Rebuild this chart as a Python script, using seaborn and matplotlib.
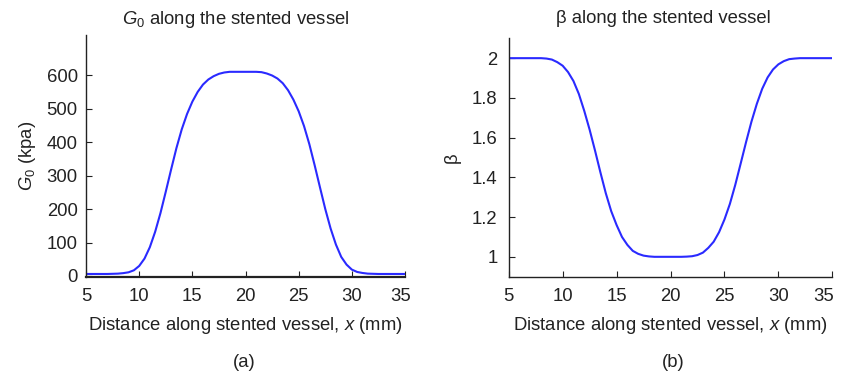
import numpy as np
import pandas as pd
import matplotlib
matplotlib.use("Agg")
import matplotlib.pyplot as plt
import matplotlib.transforms as mtransforms
import seaborn as sns

# Position along the stented vessel (mm)
x_mm = [5.0, 5.5, 6.0, 6.5, 7.0, 7.5, 8.0, 8.5, 9.0, 9.5,
        10.0, 10.5, 11.0, 11.5, 12.0, 12.5, 13.0, 13.5, 14.0, 14.5,
        15.0, 15.5, 16.0, 16.5, 17.0, 17.5, 18.0, 18.5, 19.0, 19.5,
        20.0, 20.5, 21.0, 21.5, 22.0, 22.5, 23.0, 23.5, 24.0, 24.5,
        25.0, 25.5, 26.0, 26.5, 27.0, 27.5, 28.0, 28.5, 29.0, 29.5,
        30.0, 30.5, 31.0, 31.5, 32.0, 32.5, 33.0, 33.5, 34.0, 34.5, 35.0]

# Shear modulus G0 (kPa)
g0_kpa = [6, 6, 6, 6, 6, 6.5, 7, 8.5, 11, 17,
          30, 52, 86, 132, 188, 252, 318, 382, 438, 484,
          521, 550, 572, 587, 597, 604, 608, 610, 610, 610,
          610, 610, 610, 609, 605, 599, 590, 576, 555, 527,
          492, 448, 394, 331, 265, 200, 142, 94, 57, 34,
          19, 12, 9, 7, 6.5, 6, 6, 6, 6, 6, 6]

# Stiffness exponent beta
beta = [2.0, 2.0, 2.0, 2.0, 2.0, 2.0, 2.0, 1.998, 1.993, 1.98,
        1.962, 1.93, 1.885, 1.82, 1.735, 1.64, 1.535, 1.425, 1.32, 1.23,
        1.16, 1.10, 1.06, 1.03, 1.015, 1.006, 1.002, 1.0, 1.0, 1.0,
        1.0, 1.0, 1.0, 1.001, 1.003, 1.009, 1.021, 1.045, 1.076, 1.124,
        1.188, 1.266, 1.362, 1.469, 1.577, 1.68, 1.77, 1.846, 1.903, 1.943,
        1.969, 1.985, 1.995, 1.998, 2.0, 2.0, 2.0, 2.0, 2.0, 2.0, 2.0]

x_ticks = [5, 10, 15, 20, 25, 30, 35]
g0_ticks = [0, 100, 200, 300, 400, 500, 600]
beta_ticks = [1, 1.2, 1.4, 1.6, 1.8, 2]
beta_tick_labels = ["1", "1.2", "1.4", "1.6", "1.8", "2"]

df = pd.DataFrame({"x": x_mm, "G0": g0_kpa, "beta": beta})

sns.set_style("ticks")
plt.rcParams["font.family"] = ["Liberation Sans", "DejaVu Sans"]
plt.rcParams["mathtext.fontset"] = "custom"
plt.rcParams["mathtext.rm"] = "Liberation Sans"
plt.rcParams["mathtext.it"] = "Liberation Sans:italic"
plt.rcParams["mathtext.bf"] = "Liberation Sans:bold"

ink = "#222222"
line_color = "#2a2aff"
fs = 13.3

fig = plt.figure(figsize=(8.41, 3.74), dpi=100)
ax1 = fig.add_axes([0.1023, 0.2594, 0.3793, 0.647])
ax2 = fig.add_axes([0.6049, 0.2602, 0.3848, 0.6374])

sns.lineplot(data=df, x="x", y="G0", ax=ax1, color=line_color, linewidth=1.5)
sns.lineplot(data=df, x="x", y="beta", ax=ax2, color=line_color, linewidth=1.5)

ax1.set_xlim(5, 35)
ax1.set_ylim(-3, 720)
ax1.set_yticks(g0_ticks)
ax2.set_xlim(5, 35)
ax2.set_ylim(0.9, 2.1)
ax2.set_yticks(beta_ticks)
ax2.set_yticklabels(beta_tick_labels)

for ax in (ax1, ax2):
    ax.set_xticks(x_ticks)
    for side in ("top", "right"):
        ax.spines[side].set_visible(False)
    for side in ("left", "bottom"):
        ax.spines[side].set_color(ink)
        ax.spines[side].set_linewidth(1.0)
    ax.tick_params(direction="in", length=4, width=0.8, colors=ink,
                   labelsize=fs, labelcolor=ink)
    ax.tick_params(axis="x", pad=8)
    ax.tick_params(axis="y", pad=6)
    ax.set_xlabel("Distance along stented vessel, $x$ (mm)", fontsize=fs,
                  color=ink, labelpad=7)

ax1.spines["bottom"].set_linewidth(1.6)
ax2.tick_params(axis="y", pad=8)

# Nudge the last x tick label of each panel slightly inward so it stays on the canvas
for ax, shift in ((ax1, -3), (ax2, -6)):
    last = ax.get_xticklabels()[-1]
    last.set_transform(last.get_transform() +
                       mtransforms.ScaledTranslation(shift / 72, 0, fig.dpi_scale_trans))

ax1.set_ylabel("$G_0$ (kpa)", fontsize=fs, color=ink, labelpad=6)
ax2.set_ylabel("β", fontsize=fs, color=ink, labelpad=8)

ax1.set_title("$G_0$ along the stented vessel", fontsize=fs, color=ink,
              x=0.47, pad=8)
ax2.set_title("β along the stented vessel", fontsize=fs, color=ink,
              x=0.477, pad=11)

fig.text(0.291, 0.032, "(a)", fontsize=fs, color=ink, ha="center", va="center")
fig.text(0.800, 0.032, "(b)", fontsize=fs, color=ink, ha="center", va="center")

fig.savefig("out.png", dpi=100)
